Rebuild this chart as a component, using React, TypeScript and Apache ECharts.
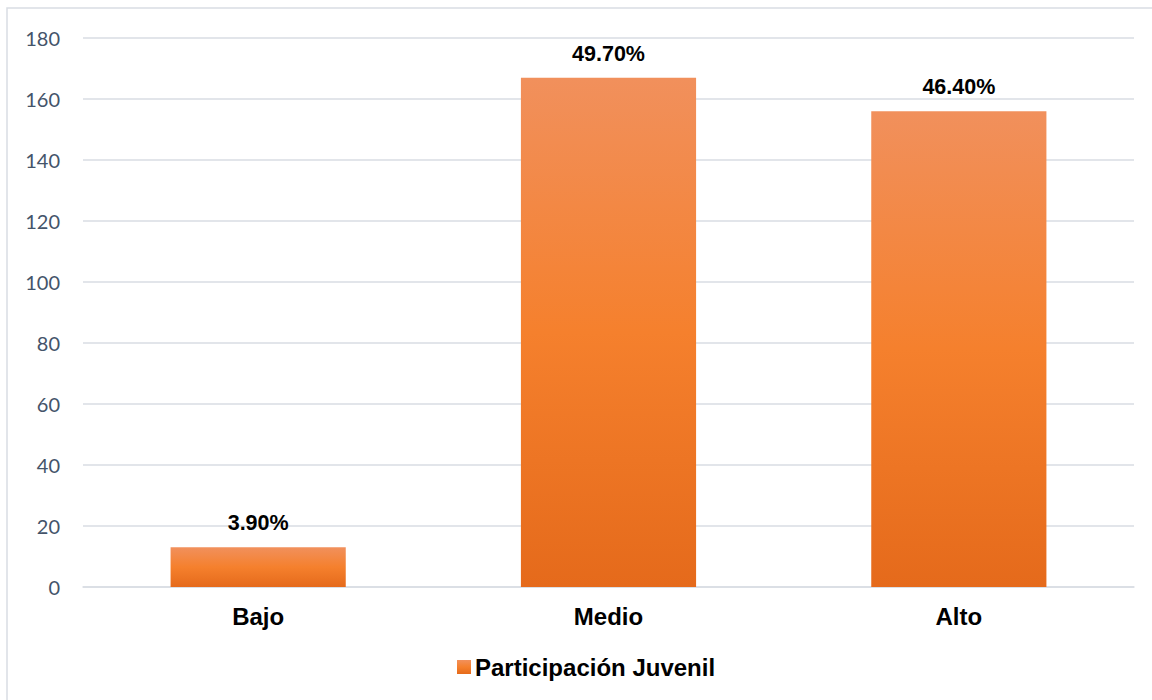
import React, { useEffect, useRef } from "react";
import * as echarts from "echarts";

const categories = ["Bajo", "Medio", "Alto"];
const counts = [13, 167, 156];
const percentLabels = ["3.90%", "49.70%", "46.40%"];
const seriesName = "Participación Juvenil";
const yMin = 0;
const yMax = 180;
const yStep = 20;

export default function App() {
  const ref = useRef<HTMLDivElement>(null);

  useEffect(() => {
    if (!ref.current) return;
    const chart = echarts.init(ref.current, null, { renderer: "svg" });
    const barGradient = new echarts.graphic.LinearGradient(0, 0, 0, 1, [
      { offset: 0, color: "#f1905c" },
      { offset: 0.5, color: "#f5802d" },
      { offset: 1, color: "#e56a1b" },
    ]);
    chart.setOption({
      animation: false,
      backgroundColor: "#ffffff",
      graphic: [
        {
          type: "rect",
          shape: { x: 7, y: 8, width: 1200, height: 720 },
          style: { fill: "none", stroke: "#d9dde3", lineWidth: 1.5 },
          silent: true,
        },
      ],
      grid: { left: 83, right: 18, top: 38, bottom: 113, containLabel: false },
      legend: {
        left: 452,
        top: 650,
        itemWidth: 14,
        itemHeight: 14,
        itemGap: 5,
        icon: "rect",
        textStyle: {
          fontFamily: "Liberation Sans, Arial, sans-serif",
          fontWeight: "bold",
          fontSize: 24,
          color: "#000000",
          padding: [0, 0, 0, -1],
        },
        data: [seriesName],
      },
      xAxis: {
        type: "category",
        data: categories,
        axisTick: { show: false },
        axisLine: { show: true, lineStyle: { color: "#d9dde3", width: 1.5 } },
        axisLabel: {
          margin: 17,
          fontFamily: "Liberation Sans, Arial, sans-serif",
          fontWeight: "bold",
          fontSize: 24,
          color: "#000000",
        },
      },
      yAxis: {
        type: "value",
        min: yMin,
        max: yMax,
        interval: yStep,
        axisLine: { show: false },
        axisTick: { show: false },
        splitLine: { lineStyle: { color: "#d9dde3", width: 1.5 } },
        axisLabel: {
          margin: 23,
          fontFamily: "Lato, Carlito, Calibri, sans-serif",
          fontSize: 20,
          color: "#44546a",
        },
      },
      series: [
        {
          name: seriesName,
          type: "bar",
          data: counts,
          barWidth: "50%",
          itemStyle: { color: barGradient },
          label: {
            show: true,
            position: "top",
            distance: 13,
            formatter: (p: any) => percentLabels[p.dataIndex],
            fontFamily: "Liberation Sans, Arial, sans-serif",
            fontWeight: "bold",
            fontSize: 21.5,
            color: "#000000",
          },
        },
      ],
    });
    return () => chart.dispose();
  }, []);

  return (
    <div
      ref={ref}
      style={{ position: "fixed", left: 0, top: 0, width: 1152, height: 700 }}
    />
  );
}
